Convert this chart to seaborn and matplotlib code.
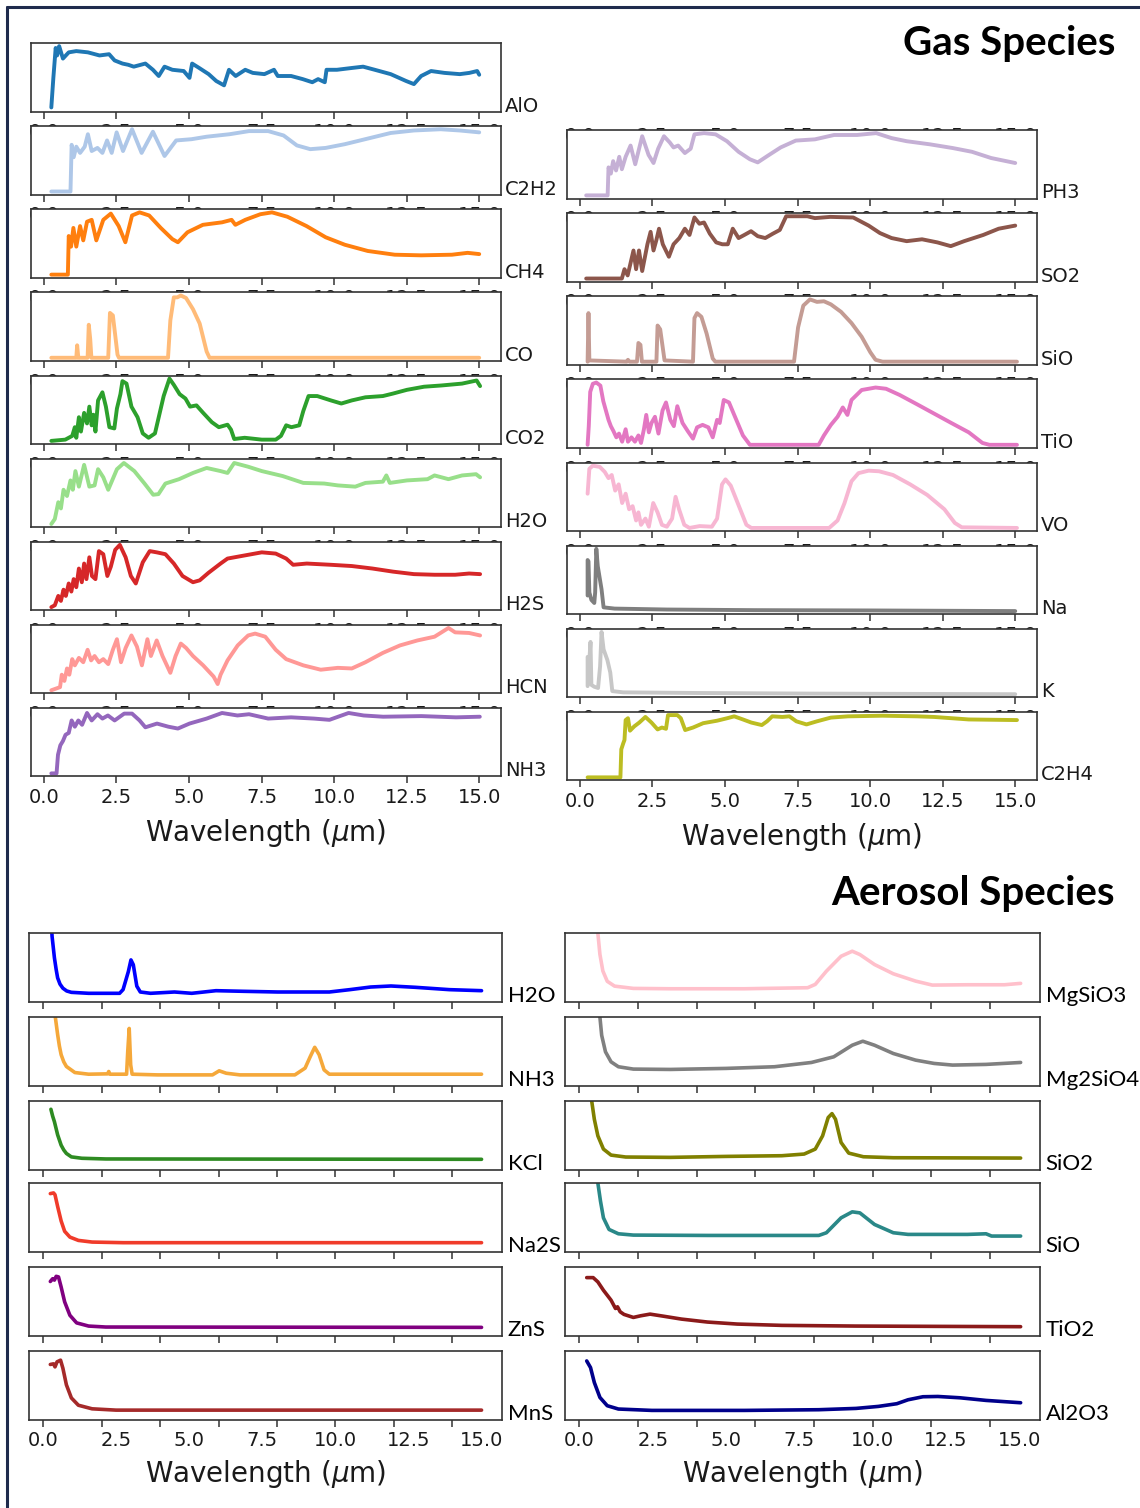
import numpy as np
import matplotlib
matplotlib.use("Agg")
import matplotlib.pyplot as plt
import seaborn as sns
from matplotlib.lines import Line2D

# ---------------- data (wavelength in micron, normalised opacity) ----------------
ALO = [(0.26,0.015),(0.33,0.49),(0.41,0.97),(0.46,0.85),(0.53,1.0),(0.66,0.80),(0.86,0.90),(1.12,0.92),
       (1.52,0.90),(1.92,0.85),(2.25,0.87),(2.44,0.77),(2.71,0.72),(2.91,0.70),(3.10,0.67),(3.50,0.72),
       (3.76,0.62),(3.96,0.52),(4.16,0.67),(4.43,0.62),(4.82,0.60),(5.02,0.49),(5.11,0.72),(5.35,0.65),
       (5.68,0.55),(5.94,0.44),(6.21,0.37),(6.38,0.62),(6.61,0.52),(6.94,0.62),(7.20,0.57),(7.60,0.55),
       (7.93,0.62),(8.06,0.52),(8.52,0.52),(8.92,0.47),(9.25,0.42),(9.45,0.47),(9.68,0.42),(9.74,0.62),
       (10.10,0.62),(10.63,0.65),(11.00,0.67),(11.40,0.62),(11.95,0.55),(12.48,0.44),(12.75,0.39),
       (13.00,0.52),(13.34,0.60),(13.80,0.57),(14.33,0.55),(14.66,0.57),(14.93,0.60),(15.00,0.54)]
C2H2 = [(0.26,0),(0.92,0),(0.96,0.75),(1.03,0.55),(1.12,0.72),(1.25,0.62),(1.41,0.72),(1.52,0.92),
        (1.65,0.65),(1.85,0.70),(2.02,0.62),(2.18,0.82),(2.34,0.62),(2.51,0.95),(2.73,0.65),(3.04,1.0),
        (3.37,0.62),(3.76,0.96),(4.16,0.57),(4.56,0.82),(5.09,0.84),(5.61,0.88),(6.40,0.92),(7.07,0.97),
        (7.73,0.97),(8.26,0.90),(8.72,0.74),(9.18,0.68),(9.71,0.70),(10.37,0.76),(11.16,0.85),
        (11.95,0.94),(12.75,0.98),(13.67,1.0),(14.33,0.98),(15.0,0.95)]
CH4 = [(0.26,0),(0.83,0),(0.86,0.62),(0.94,0.45),(1.02,0.75),(1.12,0.45),(1.25,0.78),(1.36,0.55),
       (1.49,0.85),(1.65,0.88),(1.81,0.55),(2.05,0.88),(2.31,0.98),(2.58,0.78),(2.81,0.52),(3.04,0.95),
       (3.30,1.0),(3.63,0.95),(4.03,0.75),(4.43,0.57),(4.62,0.52),(4.95,0.68),(5.48,0.80),(6.14,0.84),
       (6.47,0.88),(6.60,0.80),(6.94,0.88),(7.46,0.97),(7.86,1.0),(8.39,0.93),(9.05,0.78),(9.71,0.60),
       (10.37,0.48),(11.16,0.38),(12.09,0.32),(13.0,0.31),(14.06,0.32),(14.6,0.35),(15.0,0.33)]
CO = [(0.26,0),(1.12,0),(1.15,0.2),(1.19,0),(1.51,0),(1.55,0.53),(1.60,0.3),(1.64,0),(2.22,0),
      (2.28,0.72),(2.38,0.68),(2.54,0.05),(2.59,0),(4.28,0),(4.36,0.6),(4.48,0.97),(4.60,0.97),
      (4.72,1.0),(4.90,0.96),(5.14,0.78),(5.37,0.55),(5.61,0.1),(5.71,0),(15.0,0)]
CO2 = [(0.26,0),(0.74,0.02),(0.98,0.08),(1.07,0.22),(1.12,0.05),(1.21,0.38),(1.28,0.15),(1.39,0.45),
       (1.49,0.28),(1.57,0.55),(1.65,0.25),(1.71,0.42),(1.78,0.15),(1.87,0.65),(2.02,0.78),(2.14,0.55),
       (2.26,0.22),(2.43,0.20),(2.52,0.52),(2.64,0.75),(2.71,0.96),(2.85,0.92),(3.02,0.55),(3.23,0.38),
       (3.41,0.12),(3.61,0.05),(3.83,0.12),(4.01,0.48),(4.13,0.72),(4.33,1.0),(4.48,0.90),(4.68,0.75),
       (4.88,0.68),(5.04,0.55),(5.26,0.57),(5.49,0.45),(5.79,0.30),(6.03,0.22),(6.33,0.26),(6.45,0.18),
       (6.56,0.03),(6.92,0.05),(7.51,0.02),(7.99,0.02),(8.17,0.08),(8.35,0.25),(8.53,0.22),(8.80,0.25),
       (8.94,0.48),(9.12,0.72),(9.42,0.72),(9.89,0.65),(10.25,0.60),(10.61,0.65),(11.08,0.70),
       (11.68,0.72),(12.03,0.76),(12.51,0.82),(13.10,0.87),(13.70,0.89),(14.41,0.92),(14.91,0.97),
       (15.03,0.88)]
H2O_GAS = [(0.26,0),(0.38,0.08),(0.50,0.35),(0.59,0.25),(0.68,0.55),(0.80,0.45),(0.92,0.70),(1.00,0.55),
           (1.09,0.85),(1.21,0.60),(1.39,0.95),(1.57,0.60),(1.75,0.62),(1.87,0.88),(2.05,0.75),(2.22,0.55),
           (2.52,0.88),(2.76,0.98),(3.12,0.85),(3.47,0.65),(3.77,0.47),(3.95,0.48),(4.19,0.65),(4.66,0.72),
           (5.14,0.82),(5.61,0.90),(6.09,0.85),(6.33,0.82),(6.56,0.98),(7.04,0.92),(7.51,0.85),(8.23,0.77),
           (8.94,0.66),(9.66,0.65),(10.13,0.62),(10.73,0.60),(11.08,0.66),(11.68,0.68),(11.80,0.78),
           (11.92,0.66),(12.51,0.70),(13.22,0.72),(13.46,0.78),(13.94,0.72),(14.41,0.78),(14.89,0.80),
           (15.03,0.75)]
H2S = [(0.26,0),(0.38,0.03),(0.50,0.18),(0.59,0.10),(0.68,0.28),(0.76,0.18),(0.86,0.38),(0.95,0.25),
       (1.03,0.45),(1.12,0.32),(1.21,0.62),(1.31,0.40),(1.39,0.70),(1.47,0.45),(1.57,0.80),(1.66,0.50),
       (1.78,0.45),(1.90,0.90),(2.05,0.85),(2.19,0.50),(2.31,0.65),(2.46,0.92),(2.62,1.0),(2.82,0.80),
       (3.00,0.50),(3.17,0.38),(3.41,0.72),(3.65,0.90),(3.89,0.88),(4.19,0.85),(4.48,0.70),(4.78,0.50),
       (5.14,0.40),(5.37,0.43),(5.67,0.55),(6.09,0.70),(6.33,0.78),(6.80,0.82),(7.51,0.88),(7.99,0.86),
       (8.35,0.78),(8.59,0.68),(9.06,0.70),(9.89,0.68),(10.61,0.66),(11.32,0.62),(12.03,0.57),
       (12.75,0.53),(13.46,0.52),(14.17,0.52),(14.65,0.54),(15.03,0.53)]
HCN = [(0.26,0),(0.56,0.05),(0.62,0.25),(0.71,0.15),(0.80,0.35),(0.88,0.25),(0.98,0.50),(1.07,0.40),
       (1.21,0.52),(1.36,0.45),(1.51,0.65),(1.63,0.48),(1.75,0.55),(1.90,0.45),(2.05,0.50),(2.22,0.42),
       (2.38,0.65),(2.52,0.82),(2.66,0.45),(2.82,0.68),(3.02,0.88),(3.21,0.70),(3.38,0.40),(3.57,0.82),
       (3.69,0.55),(3.89,0.80),(4.09,0.55),(4.36,0.28),(4.54,0.55),(4.72,0.75),(4.90,0.68),(5.14,0.55),
       (5.49,0.40),(5.85,0.22),(5.99,0.10),(6.09,0.25),(6.33,0.48),(6.68,0.72),(7.04,0.88),(7.28,0.91),
       (7.63,0.86),(7.99,0.65),(8.35,0.50),(8.94,0.40),(9.54,0.33),(10.13,0.36),(10.61,0.35),
       (11.08,0.45),(11.68,0.60),(12.27,0.72),(12.87,0.80),(13.46,0.86),(13.94,1.0),(14.17,0.93),
       (14.65,0.92),(15.03,0.88)]
NH3_GAS = [(0.26,0),(0.44,0.0),(0.49,0.30),(0.57,0.45),(0.66,0.52),(0.75,0.62),(0.86,0.65),(0.96,0.85),
           (1.07,0.75),(1.19,0.85),(1.32,0.78),(1.49,0.97),(1.65,0.85),(1.85,0.95),(2.02,0.88),(2.21,0.93),
           (2.44,0.85),(2.77,0.96),(3.04,0.96),(3.30,0.85),(3.50,0.74),(3.90,0.80),(4.29,0.75),(4.62,0.72),
           (5.02,0.80),(5.61,0.88),(6.14,0.97),(6.67,0.93),(7.07,0.95),(7.73,0.88),(8.52,0.90),(9.31,0.88),
           (9.84,0.86),(10.50,0.97),(11.02,0.93),(11.69,0.91),(13.01,0.92),(14.20,0.90),(15.02,0.91)]
PH3 = [(0.22,0),(0.96,0),(0.99,0.45),(1.07,0.35),(1.15,0.55),(1.25,0.40),(1.36,0.62),(1.45,0.42),
       (1.58,0.62),(1.75,0.80),(1.91,0.50),(2.15,0.95),(2.37,0.65),(2.54,0.52),(2.70,0.75),(2.90,0.95),
       (3.10,0.85),(3.23,0.77),(3.39,0.80),(3.62,0.68),(3.82,0.75),(3.95,0.98),(4.28,1.0),(4.68,0.98),
       (5.07,0.87),(5.47,0.70),(5.86,0.58),(6.13,0.53),(6.52,0.65),(6.92,0.77),(7.44,0.88),(8.10,0.90),
       (8.76,0.97),(9.55,0.97),(10.21,1.0),(10.74,0.92),(11.26,0.87),(12.06,0.82),(12.85,0.76),
       (13.51,0.70),(14.17,0.60),(15.0,0.52)]
SO2 = [(0.22,0),(1.45,0.0),(1.54,0.15),(1.65,0.05),(1.85,0.45),(1.94,0.15),(2.04,0.45),(2.15,0.12),
       (2.33,0.55),(2.44,0.75),(2.54,0.45),(2.64,0.62),(2.73,0.80),(2.86,0.55),(3.07,0.35),(3.23,0.55),
       (3.43,0.65),(3.62,0.80),(3.78,0.70),(3.95,0.98),(4.12,0.88),(4.28,0.90),(4.48,0.72),(4.70,0.58),
       (4.91,0.55),(5.10,0.55),(5.27,0.80),(5.47,0.65),(5.67,0.70),(5.90,0.76),(6.13,0.68),(6.39,0.65),
       (6.65,0.72),(6.89,0.78),(7.11,1.0),(7.84,1.0),(8.10,0.97),(8.63,0.99),(9.42,0.98),(9.95,0.85),
       (10.34,0.73),(10.74,0.65),(11.26,0.60),(11.79,0.63),(12.32,0.58),(12.78,0.52),(13.24,0.60),
       (13.90,0.70),(14.43,0.80),(15.0,0.85)]
SIO_GAS = [(0.27,0.0),(0.30,0.78),(0.33,0.02),(1.62,0),(1.66,0.03),(1.71,0.0),(1.97,0),(2.02,0.30),
           (2.09,0.27),(2.14,0),(2.64,0),(2.68,0.58),(2.77,0.52),(2.92,0.02),(3.90,0),(3.95,0.70),
           (4.04,0.78),(4.19,0.72),(4.37,0.45),(4.58,0.05),(4.67,0),(7.38,0),(7.52,0.55),(7.70,0.90),
           (7.93,1.0),(8.17,0.96),(8.41,0.97),(8.65,0.92),(9.00,0.80),(9.36,0.62),(9.71,0.40),
           (10.01,0.15),(10.19,0.03),(10.43,0),(15.06,0)]
TIO = [(0.27,0),(0.31,0.30),(0.36,0.85),(0.45,0.98),(0.57,1.0),(0.71,0.95),(0.81,0.70),(0.90,0.55),
       (0.99,0.40),(1.07,0.30),(1.16,0.22),(1.26,0.12),(1.35,0.18),(1.46,0.05),(1.58,0.25),(1.66,0.05),
       (1.78,0.12),(1.90,0.05),(2.02,0.15),(2.11,0.03),(2.21,0.25),(2.29,0.48),(2.38,0.20),(2.47,0.35),
       (2.59,0.45),(2.71,0.18),(2.85,0.55),(2.97,0.68),(3.12,0.40),(3.24,0.30),(3.36,0.62),(3.54,0.35),
       (3.72,0.22),(3.90,0.10),(4.04,0.28),(4.23,0.32),(4.43,0.28),(4.58,0.12),(4.73,0.40),(4.82,0.35),
       (4.96,0.72),(5.14,0.68),(5.32,0.48),(5.62,0.15),(5.86,0.0),(8.23,0),(8.41,0.15),(8.65,0.32),
       (8.88,0.45),(9.06,0.60),(9.22,0.48),(9.36,0.72),(9.71,0.88),(10.19,0.92),(10.55,0.90),
       (11.02,0.80),(11.62,0.65),(12.21,0.50),(12.80,0.35),(13.40,0.20),(13.87,0.03),(14.11,0),(15.06,0)]
VO = [(0.27,0.55),(0.33,0.95),(0.45,1.0),(0.69,0.98),(0.86,0.90),(0.99,0.80),(1.10,0.85),(1.22,0.60),
      (1.34,0.70),(1.46,0.40),(1.58,0.55),(1.70,0.30),(1.82,0.35),(1.94,0.12),(2.02,0.25),(2.11,0.05),
      (2.26,0.15),(2.38,0.02),(2.53,0.40),(2.68,0.25),(2.83,0.05),(3.00,0.02),(3.18,0.15),(3.30,0.50),
      (3.42,0.30),(3.60,0.05),(3.78,0.0),(4.13,0.03),(4.55,0.02),(4.73,0.15),(4.90,0.70),(5.02,0.78),
      (5.20,0.68),(5.44,0.40),(5.74,0.05),(5.91,0),(8.59,0),(8.88,0.12),(9.12,0.40),(9.36,0.75),
      (9.60,0.88),(9.95,0.92),(10.31,0.91),(10.79,0.85),(11.38,0.70),(11.97,0.53),(12.56,0.30),
      (12.92,0.08),(13.16,0.01),(15.06,0)]
NA = [(0.27,0.25),(0.27,0.82),(0.30,0.80),(0.33,0.30),(0.40,0.18),(0.50,0.13),(0.53,0.30),(0.57,1.0),
      (0.62,0.72),(0.75,0.35),(0.82,0.06),(1.20,0.04),(3.0,0.025),(6.0,0.015),(10.0,0.01),(15.0,0.0)]
K = [(0.27,0.13),(0.27,0.60),(0.33,0.55),(0.37,0.84),(0.40,0.15),(0.50,0.12),(0.63,0.10),(0.70,0.45),
     (0.75,1.0),(0.82,0.72),(0.95,0.55),(1.05,0.35),(1.12,0.05),(1.5,0.03),(4.0,0.02),(8.0,0.01),(15.0,0.0)]
C2H4 = [(0.27,0),(1.40,0),(1.43,0.45),(1.50,0.55),(1.54,0.60),(1.58,0.92),(1.66,0.95),(1.73,0.75),
        (1.88,0.82),(2.05,0.88),(2.26,0.97),(2.47,0.88),(2.68,0.77),(2.83,0.80),(2.97,0.78),(3.04,1.0),
        (3.36,1.0),(3.48,0.95),(3.63,0.76),(3.90,0.80),(4.25,0.87),(4.73,0.91),(5.08,0.95),(5.32,0.98),
        (5.62,0.93),(5.91,0.88),(6.27,0.84),(6.45,0.90),(6.63,0.98),(6.98,0.97),(7.22,0.98),(7.46,0.90),
        (7.81,0.85),(8.17,0.90),(8.65,0.96),(9.24,0.98),(10.43,0.99),(11.62,0.98),(12.21,0.97),
        (13.40,0.93),(15.06,0.92)]

# aerosols (values as fraction of the panel height; >1 runs off the top)
H2O_AER = [(0.26,1.25),(0.30,0.95),(0.38,0.64),(0.44,0.47),(0.49,0.35),(0.57,0.26),(0.67,0.20),(0.80,0.16),
           (0.96,0.14),(1.55,0.126),(2.61,0.126),(2.73,0.18),(2.91,0.44),(3.00,0.61),(3.08,0.54),(3.20,0.23),
           (3.32,0.145),(3.67,0.126),(4.49,0.145),(5.08,0.126),(5.91,0.164),(6.85,0.155),(8.02,0.145),
           (9.79,0.145),(10.49,0.179),(11.20,0.217),(11.90,0.232),(12.73,0.213),(13.90,0.179),(15.0,0.164)]
NH3_AER = [(0.30,1.6),(0.41,1.0),(0.49,0.746),(0.55,0.58),(0.61,0.454),(0.70,0.35),(0.79,0.283),(1.08,0.195),
           (1.55,0.171),(2.20,0.176),(2.24,0.21),(2.28,0.171),(2.85,0.171),(2.89,0.502),(2.94,0.834),
           (2.99,0.307),(3.04,0.171),(3.91,0.161),(5.79,0.161),(6.02,0.22),(6.26,0.185),(6.73,0.161),
           (8.61,0.161),(8.96,0.259),(9.14,0.429),(9.29,0.561),(9.44,0.454),(9.61,0.234),(9.79,0.171),
           (15.0,0.171)]
KCL = [(0.26,0.88),(0.32,0.78),(0.38,0.70),(0.49,0.51),(0.61,0.36),(0.70,0.29),(0.79,0.24),(0.96,0.19),
       (1.32,0.17),(2.14,0.16),(15.0,0.155)]
NA2S = [(0.24,0.846),(0.35,0.856),(0.40,0.83),(0.49,0.66),(0.61,0.45),(0.73,0.30),(0.91,0.216),
        (1.20,0.168),(1.67,0.144),(2.73,0.135),(15.0,0.135)]
ZNS = [(0.24,0.79),(0.32,0.83),(0.38,0.81),(0.44,0.865),(0.52,0.856),(0.61,0.71),(0.73,0.495),(0.91,0.30),
       (1.14,0.19),(1.55,0.144),(2.14,0.13),(15.0,0.125)]
MNS = [(0.24,0.805),(0.35,0.814),(0.40,0.77),(0.47,0.843),(0.59,0.867),(0.67,0.75),(0.79,0.51),(0.96,0.32),
       (1.20,0.214),(1.67,0.162),(2.49,0.143),(15.0,0.143)]
MGSIO3 = [(0.55,1.3),(0.63,1.0),(0.70,0.69),(0.80,0.45),(0.95,0.30),(1.20,0.23),(1.84,0.197),(3.10,0.192),
          (5.63,0.192),(7.78,0.207),(8.04,0.255),(8.42,0.447),(8.92,0.663),(9.30,0.736),(9.56,0.688),
          (10.06,0.543),(10.70,0.409),(11.46,0.303),(12.03,0.245),(13.23,0.25),(14.49,0.25),(15.04,0.27)]
MG2SIO4 = [(0.60,1.4),(0.70,1.0),(0.76,0.735),(0.89,0.495),(1.08,0.35),(1.33,0.279),(1.84,0.245),(3.10,0.24),
           (5.00,0.255),(6.65,0.279),(7.91,0.341),(8.67,0.423),(9.30,0.591),(9.66,0.649),(10.06,0.591),
           (10.70,0.471),(11.46,0.375),(12.09,0.327),(12.72,0.303),(13.86,0.313),(15.04,0.341)]
SIO2 = [(0.30,1.5),(0.42,1.0),(0.51,0.735),(0.63,0.495),(0.82,0.303),(1.08,0.216),(1.58,0.188),(3.10,0.183),
        (5.00,0.197),(6.90,0.207),(7.66,0.231),(8.04,0.303),(8.29,0.495),(8.48,0.76),(8.61,0.817),
        (8.73,0.735),(8.92,0.399),(9.18,0.245),(9.68,0.192),(10.70,0.178),(15.04,0.173)]
SIO_AER = [(0.55,1.3),(0.63,1.0),(0.72,0.736),(0.82,0.495),(1.01,0.327),(1.33,0.264),(1.84,0.245),
           (4.37,0.24),(8.16,0.24),(8.42,0.279),(8.92,0.495),(9.30,0.582),(9.56,0.567),(10.06,0.399),
           (10.70,0.279),(11.20,0.255),(13.23,0.255),(13.86,0.264),(14.05,0.231),(15.04,0.231)]
TIO2 = [(0.25,0.846),(0.47,0.846),(0.63,0.784),(0.82,0.663),(1.08,0.519),(1.23,0.399),(1.30,0.423),
        (1.39,0.351),(1.52,0.313),(1.84,0.269),(2.09,0.293),(2.41,0.317),(2.85,0.288),(3.48,0.245),
        (4.37,0.202),(5.38,0.173),(6.90,0.154),(9.43,0.144),(15.04,0.135)]
AL2O3 = [(0.25,0.856),(0.38,0.76),(0.51,0.543),(0.70,0.327),(0.95,0.207),(1.33,0.159),(2.47,0.139),
         (5.63,0.139),(8.16,0.149),(9.43,0.168),(10.19,0.197),(10.82,0.236),(11.20,0.293),(11.71,0.337),
         (12.22,0.341),(12.97,0.322),(13.86,0.284),(15.04,0.25)]

GAS_LEFT_NAMES = ["AlO", "C2H2", "CH4", "CO", "CO2", "H2O", "H2S", "HCN", "NH3"]
GAS_LEFT_DATA = [ALO, C2H2, CH4, CO, CO2, H2O_GAS, H2S, HCN, NH3_GAS]
GAS_RIGHT_NAMES = ["PH3", "SO2", "SiO", "TiO", "VO", "Na", "K", "C2H4"]
GAS_RIGHT_DATA = [PH3, SO2, SIO_GAS, TIO, VO, NA, K, C2H4]
AER_LEFT_NAMES = ["H2O", "NH3", "KCl", "Na2S", "ZnS", "MnS"]
AER_LEFT_DATA = [H2O_AER, NH3_AER, KCL, NA2S, ZNS, MNS]
AER_RIGHT_NAMES = ["MgSiO3", "Mg2SiO4", "SiO2", "SiO", "TiO2", "Al2O3"]
AER_RIGHT_DATA = [MGSIO3, MG2SIO4, SIO2, SIO_AER, TIO2, AL2O3]
AER_LEFT_COLORS = ["#0000ff", "#f5a83a", "#2e8b22", "#f03b2a", "#800080", "#a52a2a"]
AER_RIGHT_COLORS = ["#ffc0cb", "#808080", "#808000", "#2a8888", "#8b1a1a", "#00008b"]
TICKS = [0.0, 2.5, 5.0, 7.5, 10.0, 12.5, 15.0]
TICK_LABELS = ["0.0", "2.5", "5.0", "7.5", "10.0", "12.5", "15.0"]
AER_MAJOR_TICKS = [0, 2, 4, 6, 8, 10, 12, 14]
XLABEL = "Wavelength ($\\mu$m)"

# ---------------- styling ----------------
sns.set_theme(style="white")
plt.rcParams["font.family"] = ["DejaVu Sans"]
plt.rcParams["mathtext.fontset"] = "dejavusans"

W, H = 1140, 1508
fig = plt.figure(figsize=(W / 100, H / 100), dpi=100)
fig.patch.set_facecolor("white")
tab20 = sns.color_palette("tab20", 20)
SPINE = "#333333"
TXT = "#1a1a1a"


def add_ax(left, top, w, h):
    return fig.add_axes([left / W, 1 - (top + h) / H, w / W, h / H])


def style(ax):
    for s in ax.spines.values():
        s.set_color(SPINE)
        s.set_linewidth(1.2)
    ax.set_yticks([])
    ax.set_ylabel("")
    ax.set_facecolor("white")


def draw(ax, pts, color, lw):
    xs = [p[0] for p in pts]
    ys = [p[1] for p in pts]
    sns.lineplot(x=xs, y=ys, ax=ax, color=color, linewidth=lw, sort=False, estimator=None)


def gas_ticks(ax):
    ax.set_xticks(TICKS)
    ax.set_xticklabels(TICK_LABELS)
    ax.tick_params(axis="x", which="major", direction="out", length=5, width=1.1,
                   colors=SPINE, labelcolor=TXT, labelsize=14, pad=3.4, bottom=True)


GAS_H = 68.5
left_tops = [43 + 83.125 * i for i in range(9)]
right_tops = [130 + 83.14 * i for i in range(8)]

# invisible helper row above PH3 (only its tick labels peek out)
ghost = add_ax(567, right_tops[0] - 83.14, 470, GAS_H)
ghost.set_xlim(-0.44, 15.75)
gas_ticks(ghost)
ghost.tick_params(axis="x", colors="white", labelcolor=TXT)
ghost.set_yticks([])
for s in ghost.spines.values():
    s.set_visible(False)
ghost.patch.set_alpha(0)

# ---------------- gas panels ----------------
for i, (name, pts) in enumerate(zip(GAS_LEFT_NAMES, GAS_LEFT_DATA)):
    ax = add_ax(31, left_tops[i], 470, GAS_H)
    draw(ax, pts, tab20[i], 2.8)
    style(ax)
    ax.set_xlim(-0.44, 15.75)
    ax.set_ylim(-0.05, 1.05)
    gas_ticks(ax)
    ax.text(1.008, 0.0, name, transform=ax.transAxes, ha="left", va="baseline",
            fontsize=14, color=TXT)
    if i == len(GAS_LEFT_NAMES) - 1:
        ax.set_xlabel(XLABEL, fontsize=20, color=TXT, labelpad=7)

for i, (name, pts) in enumerate(zip(GAS_RIGHT_NAMES, GAS_RIGHT_DATA)):
    ax = add_ax(567, right_tops[i], 470, GAS_H)
    draw(ax, pts, tab20[9 + i], 2.8)
    style(ax)
    ax.set_xlim(-0.44, 15.75)
    ax.set_ylim(-0.05, 1.05)
    gas_ticks(ax)
    ax.text(1.008, 0.0, name, transform=ax.transAxes, ha="left", va="baseline",
            fontsize=14, color=TXT)
    if i == len(GAS_RIGHT_NAMES) - 1:
        ax.set_xlabel(XLABEL, fontsize=20, color=TXT, labelpad=7)

# ---------------- aerosol panels ----------------
aer_tops = [933, 1017, 1101, 1183, 1267, 1351]
for col, (x0, w, names, datas, colors) in enumerate([
        (29, 473, AER_LEFT_NAMES, AER_LEFT_DATA, AER_LEFT_COLORS),
        (565, 475, AER_RIGHT_NAMES, AER_RIGHT_DATA, AER_RIGHT_COLORS)]):
    for i, (name, pts, c) in enumerate(zip(names, datas, colors)):
        ax = add_ax(x0, aer_tops[i], w, 69)
        draw(ax, pts, c, 2.6)
        style(ax)
        ax.set_xlim(-0.49, 15.7)
        ax.set_ylim(0, 1)
        ax.set_xticks(AER_MAJOR_TICKS)
        ax.set_xticklabels([])
        ax.tick_params(axis="x", which="major", direction="out", length=5, width=1.1,
                       colors=SPINE, bottom=True)
        ax.text(1.012, 0.0, name, transform=ax.transAxes, ha="left", va="baseline",
                fontsize=16, color="black", family="Lato")
        if i == len(names) - 1:
            ax.xaxis.remove_overlapping_locs = False
            ax.set_xticks(TICKS, minor=True)
            ax.set_xticklabels(TICK_LABELS, minor=True)
            ax.tick_params(axis="x", which="minor", length=0, labelsize=14,
                           labelcolor=TXT, pad=8, bottom=True)
            ax.set_xlabel(XLABEL, fontsize=20, color=TXT, labelpad=6)

# ---------------- titles and frame ----------------
fig.text(1115 / W, 1 - 44 / H, "Gas Species", ha="right", va="center",
         fontsize=29, fontweight="bold", family="Lato", color="black")
fig.text(1115 / W, 1 - 893 / H, "Aerosol Species", ha="right", va="center",
         fontsize=29, fontweight="bold", family="Lato", color="black")

frame_c = "#1f2b4d"
fig.add_artist(Line2D([7 / W, 1.0], [1 - 7 / H, 1 - 7 / H], color=frame_c, lw=2.2,
                      transform=fig.transFigure))
fig.add_artist(Line2D([7 / W, 7 / W], [0.0, 1 - 7 / H], color=frame_c, lw=2.2,
                      transform=fig.transFigure))

fig.savefig("out.png", dpi=100, facecolor="white")
